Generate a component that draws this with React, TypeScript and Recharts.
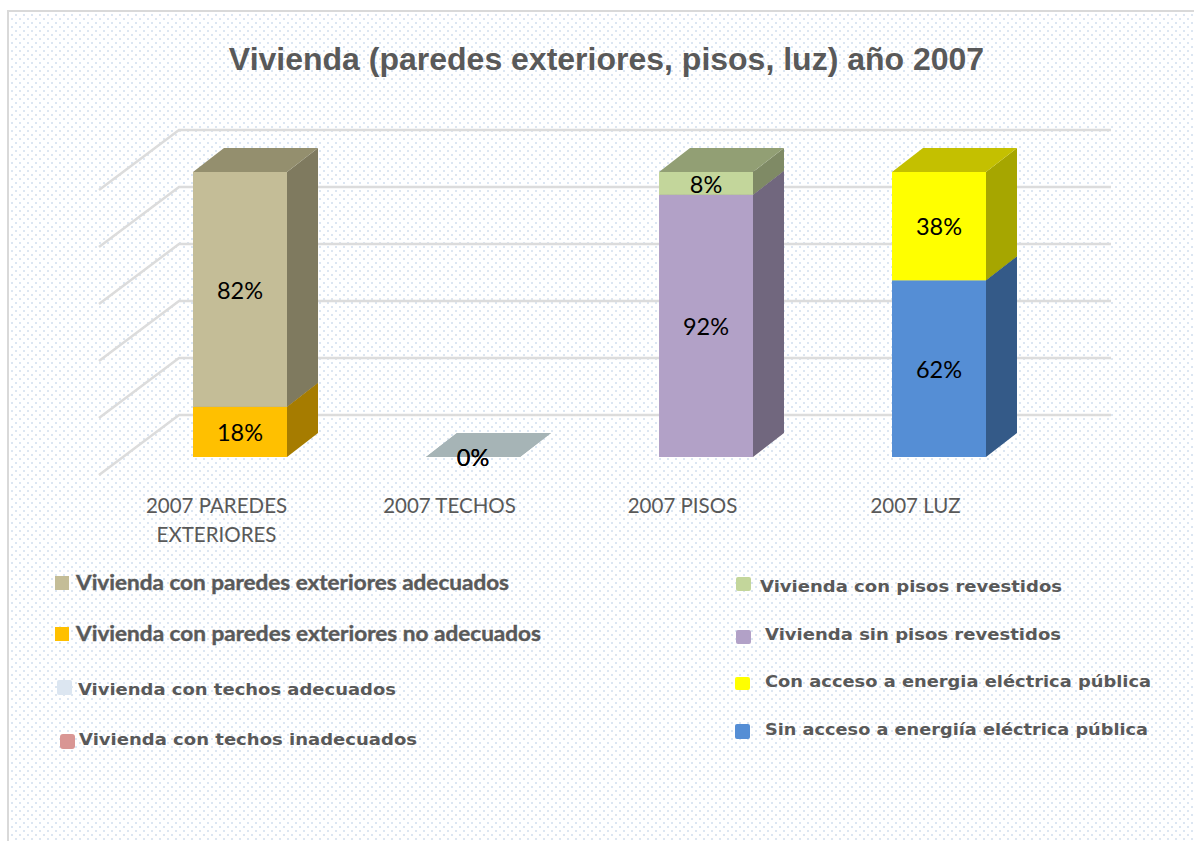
import React from 'react';
import { BarChart, Bar, XAxis, YAxis, CartesianGrid, Legend, LabelList } from 'recharts';

const categories = ['2007 PAREDES EXTERIORES', '2007 TECHOS', '2007 PISOS', '2007 LUZ'];

// null = the series does not belong to that column
const paredesNoAdecuados = [17.6, null, null, null];
const paredesAdecuados = [82.4, null, null, null];
const techosAdecuados = [null, 0, null, null];
const techosInadecuados = [null, 0, null, null];
const pisosSinRevestir = [null, null, 92, null];
const pisosRevestidos = [null, null, 8, null];
const luzSinAcceso = [null, null, null, 62];
const luzConAcceso = [null, null, null, 38];

const yTicks = [0, 20, 40, 60, 80, 100];

const data = categories.map((name, i) => ({
  name,
  paredesNoAdecuados: paredesNoAdecuados[i],
  paredesAdecuados: paredesAdecuados[i],
  techosAdecuados: techosAdecuados[i],
  techosInadecuados: techosInadecuados[i],
  pisosSinRevestir: pisosSinRevestir[i],
  pisosRevestidos: pisosRevestidos[i],
  luzSinAcceso: luzSinAcceso[i],
  luzConAcceso: luzConAcceso[i],
}));

// drawing order of the stacks, bottom to top
const series = [
  { key: 'paredesNoAdecuados', name: 'Vivienda con paredes exteriores no adecuados', front: '#ffc000', side: '#a67c00', top: '#a67c00' },
  { key: 'paredesAdecuados', name: 'Vivienda con paredes exteriores adecuados', front: '#c4bd97', side: '#7f7a5f', top: '#948f6e' },
  { key: 'techosAdecuados', name: 'Vivienda con techos adecuados', front: '#dce6f1', side: '#a6b4b6', top: '#a6b4b6' },
  { key: 'techosInadecuados', name: 'Vivienda con techos inadecuados', front: '#d99694', side: '#a6b4b6', top: '#a6b4b6' },
  { key: 'pisosSinRevestir', name: 'Vivienda sin pisos revestidos', front: '#b2a1c7', side: '#71677e', top: '#71677e' },
  { key: 'pisosRevestidos', name: 'Vivienda con pisos revestidos', front: '#c3d69b', side: '#7f8a65', top: '#929f74' },
  { key: 'luzSinAcceso', name: 'Sin acceso a energiía eléctrica pública', front: '#558ed5', side: '#345a88', top: '#345a88' },
  { key: 'luzConAcceso', name: 'Con  acceso a energia eléctrica pública', front: '#ffff00', side: '#a6a600', top: '#c4c000' },
];

const legendLayout: Record<string, any> = {
  'Vivienda con paredes exteriores adecuados': { box: [55, 576, 14, 14, 0], text: [76, 590, 433, 'Lato', 21, 0.4] },
  'Vivienda con paredes exteriores no adecuados': { box: [55, 627, 14, 14, 0], text: [76, 641, 465, 'Lato', 21, 0.4] },
  'Vivienda con techos adecuados': { box: [57, 680, 15, 15, 2], text: [78, 695, 318, 'DejaVu Sans', 16.5, 0] },
  'Vivienda con techos inadecuados': { box: [60, 734, 15, 15, 3], text: [79, 745, 338, 'DejaVu Sans', 16.5, 0] },
  'Vivienda con pisos revestidos': { box: [736, 577, 15, 14, 2], text: [760, 592, 302, 'DejaVu Sans', 16.5, 0] },
  'Vivienda sin pisos revestidos': { box: [736, 630, 15, 14, 2], text: [765, 640, 296, 'DejaVu Sans', 16.5, 0] },
  'Con  acceso a energia eléctrica pública': { box: [735, 677, 15, 13, 2], text: [765, 687, 386, 'DejaVu Sans', 16.5, 0] },
  'Sin acceso a energiía eléctrica pública': { box: [735, 724, 15, 15, 2], text: [765, 735, 383, 'DejaVu Sans', 16.5, 0] },
};

const DEPTH_X = 31;
const DEPTH_Y = 24;

const Bar3D = (props: any) => {
  const { x, y, width, height, payload, front, side, top, dataKey } = props;
  if (payload[dataKey] == null) return null;
  const r = x + width;
  const b = y + height;
  return (
    <g>
      <path d={`M${r},${y}L${r + DEPTH_X},${y - DEPTH_Y}V${b - DEPTH_Y}L${r},${b}Z`} fill={side} />
      <path d={`M${x},${y}L${x + DEPTH_X},${y - DEPTH_Y}H${r + DEPTH_X}L${r},${y}Z`} fill={top} />
      {height > 0 && <rect x={x} y={y} width={width} height={height} fill={front} />}
    </g>
  );
};

// the floor and walls sit behind the bars, pushed back in perspective
const GridLine3D = (props: any) => {
  const { x1, x2, y1 } = props;
  return (
    <path
      d={`M${x1 - 24},${y1 + 18}L${x1 + 56},${y1 - 42}H${x2 + 56}`}
      fill="none"
      stroke="#dcdcdc"
      strokeWidth={2.5}
    />
  );
};

const CategoryTick = (props: any) => {
  const { x, y, payload } = props;
  const words = String(payload.value).split(' ');
  const lines: string[] = [];
  words.forEach((w) => {
    const last = lines[lines.length - 1];
    if (last && (last + ' ' + w).length <= 12) lines[lines.length - 1] = last + ' ' + w;
    else lines.push(w);
  });
  return (
    <text x={x - 23} y={y} textAnchor="middle" fontFamily="Lato" fontSize={20.5} fill="#595959">
      {lines.map((l, i) => (
        <tspan key={l} x={x - 23} dy={i === 0 ? 0 : 29}>
          {l}
        </tspan>
      ))}
    </text>
  );
};

const LegendBlock = ({ payload }: any) => (
  <svg width={1194} height={841} style={{ position: 'absolute', left: 0, top: 0 }}>
    {(payload || []).map((entry: any) => {
      const item = legendLayout[entry.value];
      const [bx, by, bw, bh, br] = item.box;
      const [tx, ty, tw, family, size, weight] = item.text;
      return (
        <g key={entry.value}>
          <rect x={bx} y={by} width={bw} height={bh} rx={br} fill={entry.color} />
          <text
            x={tx}
            y={ty}
            textLength={tw}
            lengthAdjust="spacingAndGlyphs"
            fontFamily={family}
            fontWeight="bold"
            fontSize={size}
            fill="#595959"
            stroke="#595959"
            strokeWidth={weight}
          >
            {entry.value}
          </text>
        </g>
      );
    })}
  </svg>
);

const dots =
  "url(\"data:image/svg+xml,%3Csvg xmlns='http://www.w3.org/2000/svg' width='8' height='8'%3E%3Crect x='1' y='1' width='2' height='2' fill='%23dce6f2'/%3E%3Crect x='5' y='5' width='2' height='2' fill='%23dce6f2'/%3E%3C/svg%3E\")";

export default function App() {
  return (
    <div style={{ position: 'absolute', left: 0, top: 0, width: 1194, height: 841, overflow: 'hidden', background: '#fff' }}>
      <div
        style={{
          position: 'absolute',
          left: 7,
          top: 10,
          width: 1187,
          height: 831,
          boxSizing: 'border-box',
          borderLeft: '2px solid #d9d9d9',
          borderTop: '2px solid #d9d9d9',
          backgroundImage: dots,
          backgroundPosition: '-7px -11px',
        }}
      />
      <div style={{ position: 'absolute', left: 0, top: 0 }}>
        <BarChart
          width={1194}
          height={841}
          data={data}
          barSize={94}
          margin={{ top: 172, right: 139, bottom: 324, left: 123 }}
        >
          <CartesianGrid vertical={false} horizontal={(p: any) => <GridLine3D key={p.index} {...p} />} />
          <XAxis
            dataKey="name"
            axisLine={false}
            tickLine={false}
            interval={0}
            tickMargin={0}
            height={60}
            tick={(p: any) => <CategoryTick {...p} y={513} />}
          />
          <YAxis hide domain={[0, 100]} ticks={yTicks} width={0} />
          <Legend content={<LegendBlock />} wrapperStyle={{ position: 'absolute', left: 0, top: 0, width: 0, height: 0 }} />
          {series.map((s) => (
            <Bar
              key={s.key}
              dataKey={s.key}
              name={s.name}
              stackId="a"
              fill={s.front}
              isAnimationActive={false}
              shape={(p: any) => <Bar3D {...p} dataKey={s.key} front={s.front} side={s.side} top={s.top} />}
            >
              <LabelList
                dataKey={s.key}
                position="center"
                formatter={(v: any) => (v == null ? '' : `${Math.round(v)}%`)}
                fill="#000"
                fontFamily="Lato"
                fontSize={23.5}
                dy={1}
              />
            </Bar>
          ))}
          <text x={606.5} y={70} textAnchor="middle" fontFamily="Liberation Sans" fontWeight="bold" fontSize={32} fill="#595959">
            Vivienda (paredes exteriores, pisos, luz) año 2007
          </text>
        </BarChart>
      </div>
    </div>
  );
}
